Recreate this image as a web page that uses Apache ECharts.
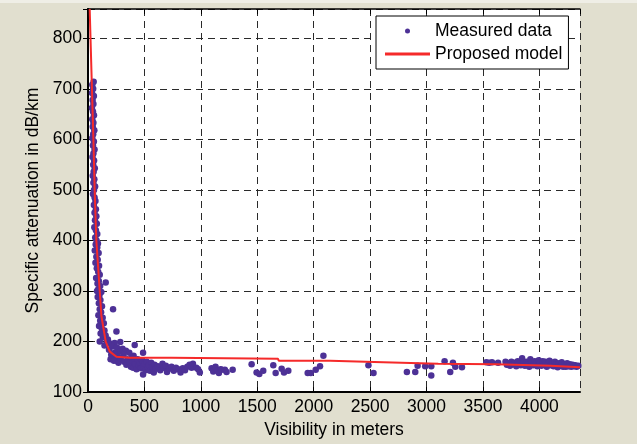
<!DOCTYPE html>
<html>
<head>
<meta charset="utf-8">
<script src="https://cdn.jsdelivr.net/npm/echarts@6/dist/echarts.min.js"></script>
<style>
  html, body { margin: 0; padding: 0; background: #e1dfcf; }
  #chart { width: 637px; height: 444px; }
</style>
</head>
<body>
<div id="chart"></div>
<script>
// axis ranges / ticks
const xTicks = [0, 500, 1000, 1500, 2000, 2500, 3000, 3500, 4000];
const yTicks = [100, 200, 300, 400, 500, 600, 700, 800];

const steepPart = [
  [50,714],[38,708],[46,700],[36,692],[52,686],[41,678],[48,670],[35,662],[44,655],[53,648],
  [38,640],[48,633],[42,625],[56,618],[46,610],[38,603],[52,596],[44,588],[58,580],[48,572],
  [40,565],[54,558],[46,550],[60,543],[50,536],[42,528],[56,521],[48,514],[63,507],[53,500],
  [44,492],[58,485],[66,478],[52,470],[70,462],[58,455],[74,448],[62,440],[78,433],[56,426],
  [70,420],[82,413],[64,406],[76,400],[88,394],[68,392],[82,386],[60,380],[94,375],[74,368],
  [86,362],[66,356],[98,350],[78,345],[90,338],[104,332],[72,326],[96,320],[84,315],[157,317],
  [108,310],[92,304],[118,298],[80,300],[102,292]
];
const kneePart = [
  [86,288],[110,282],[96,276],[124,270],[104,264],[222,264],[116,258],[92,252],[130,247],[108,241],
  [140,236],[98,231],[122,226],[146,222],[252,220],[112,216],[156,212],[132,208],[176,204],[104,200],
  [166,198],[196,196],[236,197],[286,199],[146,192],[216,190],[256,188],[306,186],[414,193],[186,184],
  [336,182],[276,180],[236,178],[366,178],[488,178],[206,174],[316,174],[404,172],[266,170],[226,167],
  [200,165],[256,162]
];
const lowBand = [
  [230,162],[270,158],[290,166],[320,160],[340,154],[350,165],[370,158],[380,150],[390,168],[400,148],
  [410,160],[420,155],[430,145],[440,165],[450,152],[460,158],[470,147],[480,162],[488,135],[490,150],
  [500,156],[510,143],[520,160],[530,148],[540,153],[550,142],[560,158],[570,149],[583,139],[590,154],
  [600,146],[620,151],[640,143],[660,156],[670,148],[690,152],[700,140],[720,146],[740,150],[760,142],
  [780,148],[800,145],[820,139],[840,147],[860,143],[880,150],[900,154],[918,148],[930,156],[960,148],
  [976,145],[991,139]
];
const midRange = [
  [1095,147],[1110,141],[1130,150],[1145,143],[1160,138],[1175,145],[1184,144],[1213,144],[1228,140],[1282,144],
  [1450,155],[1494,139],[1518,136],[1553,142],[1642,153],[1663,138],[1716,146],[1737,139],[1775,142],[1947,138],
  [1974,138],[2018,144],[2056,151],[2086,172],[2485,153],[2530,138],[2826,140],[2900,140],[2921,152],[2988,151],
  [3042,151],[3042,133],[3160,161],[3210,140],[3234,158],[3255,150],[3314,149]
];
const farBand = [
  [3530,159],[3555,158],[3580,159],[3634,158],[3700,160],[3712,154],[3725,157],[3740,152],[3752,160],[3765,155],
  [3780,158],[3795,151],[3808,161],[3820,156],[3835,153],[3847,167],[3860,158],[3872,152],[3885,160],[3898,155],
  [3910,150],[3920,165],[3932,158],[3945,153],[3958,161],[3970,156],[3982,151],[3994,163],[4006,158],[4018,152],
  [4030,161],[4042,155],[4054,160],[4066,150],[4078,157],[4090,162],[4102,153],[4114,158],[4126,151],[4138,160],
  [4150,155],[4162,149],[4174,157],[4186,152],[4198,159],[4210,150],[4222,155],[4234,150],[4246,157],[4258,151],
  [4270,155],[4282,150],[4294,154],[4306,151],[4318,153],[4330,150],[4345,152]
];

// proposed model curve
const modelCurve = [
  [15,858],[35,700],[48,600],[59,500],[74,400],[104,300],[119,250],[157,200],[193,180],[252,170],
  [370,168],[740,168],[745,166],[1684,166],[1690,162],[2145,162],[2150,159],[2616,159],[2620,156],
  [3104,156],[3110,155],[3610,155],[3615,152],[4098,152],[4105,150],[4360,149]
];

const measured = [].concat(steepPart, kneePart, lowBand, midRange, farBand);

const chart = echarts.init(document.getElementById('chart'));
const font = 'Liberation Sans, Arial, sans-serif';
const fs = 17.5;
const gridLine = { show: true, lineStyle: { color: '#2a2a2a', type: [7, 5], width: 1 } };

const option = {
  backgroundColor: '#e1dfcf',
  animation: false,
  graphic: [
    { type: 'rect', left: 0, top: 0, shape: { width: 637, height: 3 }, style: { fill: '#efeee6' } }
  ],
  grid: {
    left: 88, right: 57, top: 9, bottom: 48,
    show: true, backgroundColor: '#ffffff', borderWidth: 0
  },
  legend: {
    orient: 'vertical',
    left: 376, top: 16,
    backgroundColor: '#ffffff',
    borderColor: '#000', borderWidth: 1,
    padding: [6, 6, 6, 9],
    itemWidth: 45, itemHeight: 5, itemGap: 5,
    textStyle: { fontFamily: font, fontSize: fs, color: '#000', lineHeight: 17 },
    data: [
      { name: 'Measured data', icon: 'circle' },
      { name: 'Proposed model', icon: 'path://M0,0H45V3H0Z' }
    ]
  },
  xAxis: [
    {
      type: 'value', min: 0, max: 4360, interval: 500,
      name: 'Visibility in meters', nameLocation: 'middle', nameGap: 25,
      nameTextStyle: { fontFamily: font, fontSize: fs, color: '#000' },
      axisLine: { lineStyle: { color: '#000', width: 2 } },
      axisTick: { inside: true, length: 5, lineStyle: { color: '#000' } },
      axisLabel: { fontFamily: font, fontSize: fs, color: '#000', margin: 6, showMaxLabel: false,
        formatter: v => xTicks.indexOf(v) >= 0 ? String(v) : '' },
      splitLine: gridLine
    },
    {
      type: 'value', position: 'top', min: 0, max: 4360, interval: 500,
      axisLine: { show: true, lineStyle: { color: '#000', width: 1.5 } },
      axisTick: { inside: true, length: 5, lineStyle: { color: '#000' } },
      axisLabel: { show: false }, splitLine: { show: false }
    }
  ],
  yAxis: [
    {
      type: 'value', min: 100, max: 858, interval: 100,
      name: 'Specific attenuation in dB/km', nameLocation: 'middle', nameGap: 46,
      nameTextStyle: { fontFamily: font, fontSize: fs, color: '#000' },
      axisLine: { show: true, lineStyle: { color: '#000', width: 2 } },
      axisTick: { show: true, inside: true, length: 5, lineStyle: { color: '#000' } },
      axisLabel: { fontFamily: font, fontSize: fs, color: '#000', margin: 6, showMaxLabel: false,
        formatter: v => yTicks.indexOf(v) >= 0 ? String(v) : '' },
      splitLine: gridLine
    },
    {
      type: 'value', position: 'right', min: 100, max: 858, interval: 100,
      axisLine: { show: true, lineStyle: { color: '#000', width: 1.5 } },
      axisTick: { show: true, inside: true, length: 5, lineStyle: { color: '#000' } },
      axisLabel: { show: false }, splitLine: { show: false }
    }
  ],
  series: [
    {
      name: 'Measured data',
      type: 'scatter',
      symbol: 'circle',
      symbolSize: 6.5,
      itemStyle: { color: '#4d3196', opacity: 1 },
      data: measured,
      z: 2
    },
    {
      name: 'Proposed model',
      type: 'line',
      symbol: 'none',
      lineStyle: { color: '#f52a2a', width: 2 },
      itemStyle: { color: '#f52a2a' },
      data: modelCurve,
      z: 3
    }
  ]
};

chart.setOption(option);
</script>
</body>
</html>
